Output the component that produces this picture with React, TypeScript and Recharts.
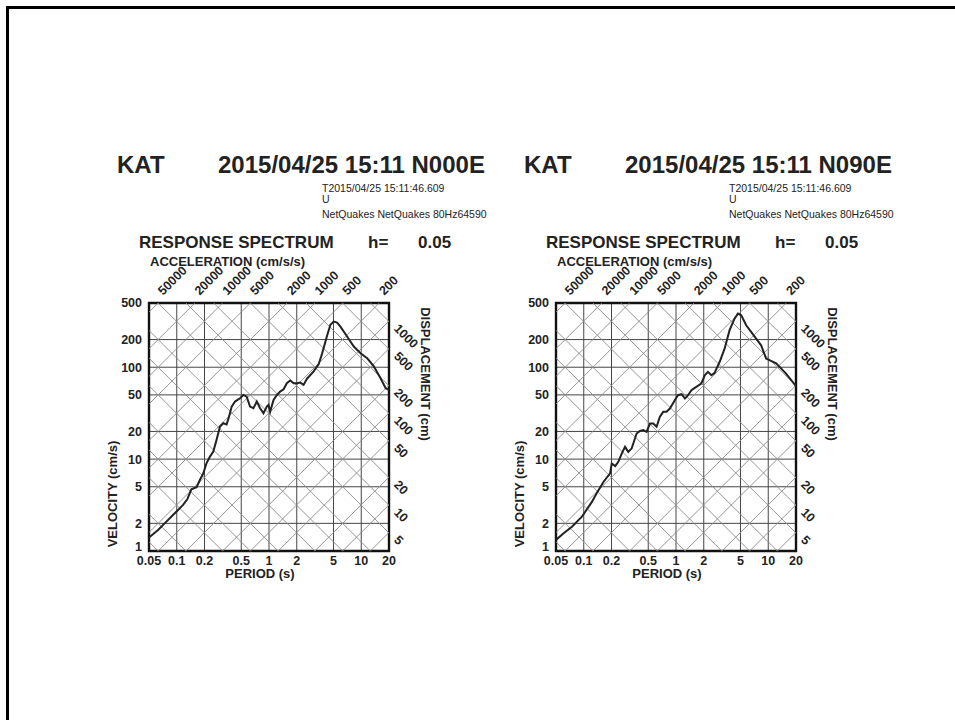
import React from "react";
import {
  LineChart,
  Line,
  XAxis,
  YAxis,
  CartesianGrid,
  ReferenceLine,
  ReferenceDot,
  ReferenceArea,
} from "recharts";

const FONT = "'Liberation Sans', Arial, Helvetica, sans-serif";
const INK = "#222";

// axes
const periodTicks = [0.05, 0.1, 0.2, 0.5, 1, 2, 5, 10, 20];
const velocityTicks = [1, 2, 5, 10, 20, 50, 100, 200, 500];

// tripartite diagonals (cm/s/s and cm)
const accelerationLines = [0.5, 1, 2, 5, 10, 20, 50, 100, 200, 500, 1000, 2000, 5000, 10000, 20000, 50000];
const displacementLines = [0.01, 0.02, 0.05, 0.1, 0.2, 0.5, 1, 2, 5, 10, 20, 50, 100, 200, 500, 1000];
const accelerationLabels = [50000, 20000, 10000, 5000, 2000, 1000, 500, 200];
const displacementLabels = [1000, 500, 200, 100, 50, 20, 10, 5];

// N000E component
const periodsN000E = [
  0.05, 0.0627, 0.0772, 0.0951, 0.117, 0.13, 0.144, 0.164, 0.178, 0.194, 0.21, 0.229, 0.249, 0.27,
  0.294, 0.32, 0.347, 0.362, 0.394, 0.428, 0.485, 0.527, 0.573, 0.623, 0.678, 0.737, 0.801, 0.871,
  0.947, 0.987, 1.03, 1.12, 1.22, 1.32, 1.44, 1.56, 1.7, 1.85, 2.01, 2.18, 2.37, 2.58, 3.05, 3.46,
  3.76, 4.26, 4.63, 5.03, 5.47, 5.95, 7.03, 8.31, 9.82, 11.6, 13.7, 16.2, 18.4, 20,
];
const velocityN000E = [
  1.4, 1.69, 2.09, 2.57, 3.17, 3.65, 4.69, 4.94, 5.93, 7.01, 9.01, 10.65, 12.1, 16.2,
  22.6, 24.6, 23.9, 27.2, 37.3, 42.3, 45.9, 49.9, 47.9, 37.3, 35.8, 42.3, 35.8, 31.6,
  37.3, 38.9, 32.9, 44.1, 49.9, 54.3, 57.6, 67, 71.6, 67, 67, 68.1, 64.2, 75, 90, 108,
  140, 220, 290, 314, 306, 277, 216, 168, 142, 125, 102, 75.9, 59, 56.6,
];

// N090E component
const periodsN090E = [
  0.05, 0.0605, 0.0744, 0.0954, 0.122, 0.139, 0.164, 0.193, 0.201, 0.219, 0.237, 0.258, 0.28,
  0.304, 0.331, 0.374, 0.407, 0.442, 0.48, 0.522, 0.567, 0.616, 0.669, 0.727, 0.789, 0.858,
  0.971, 1.05, 1.15, 1.25, 1.35, 1.47, 1.66, 1.88, 2.05, 2.22, 2.42, 2.62, 2.97, 3.37, 3.81,
  4.31, 4.69, 5.1, 5.77, 7.39, 8.38, 9.48, 12.2, 15.6, 19.6, 20,
];
const velocityN090E = [
  1.32, 1.56, 1.84, 2.36, 3.4, 4.3, 5.67, 6.99, 8.97, 8.39, 9.35, 11.5, 13.6,
  12.0, 13.1, 19.0, 20.3, 20.7, 19.8, 24.4, 24.4, 22.5, 28.9, 32.7, 32.7, 35.5,
  43.8, 49.6, 50.9, 45.6, 49.6, 56.2, 61.1, 66.4, 81.8, 89, 81.8, 86.8, 114, 160, 253,
  338, 383, 367, 286, 205, 173, 124, 110, 85.3, 63.7, 62,
];

const T_MIN = 0.05;
const T_MAX = 20;
const V_MIN = 1;
const V_MAX = 500;
const TWO_PI = 2 * Math.PI;

// constant acceleration: V = A T / 2pi, clipped to the plot box
function accelSegment(a: number) {
  const k = a / TWO_PI;
  const t1 = Math.max(T_MIN, V_MIN / k);
  const t2 = Math.min(T_MAX, V_MAX / k);
  if (t1 >= t2) return null;
  return [
    { x: t1, y: k * t1 },
    { x: t2, y: k * t2 },
  ];
}

// constant displacement: V = 2pi D / T
function dispSegment(d: number) {
  const c = d * TWO_PI;
  const t1 = Math.max(T_MIN, c / V_MAX);
  const t2 = Math.min(T_MAX, c / V_MIN);
  if (t1 >= t2) return null;
  return [
    { x: t1, y: c / t1 },
    { x: t2, y: c / t2 },
  ];
}

const tickStyle = { fontSize: 12.5, fontWeight: 700, fill: INK, fontFamily: FONT };

// the lowest velocity label sits a little above the corner, clear of "0.05"
function VelocityTick(props: any) {
  const { x, y, payload } = props;
  const shift = payload.value === V_MIN ? -4 : 0;
  return (
    <text x={x} y={y + shift} dy="0.355em" textAnchor="end" {...tickStyle}>
      {payload.value}
    </text>
  );
}

function Spectrum({ periods, velocities }: { periods: number[]; velocities: number[] }) {
  const data = periods.map((p, i) => ({ period: p, velocity: velocities[i] }));
  return (
    <LineChart
      width={360}
      height={338}
      data={data}
      margin={{ top: 60, right: 60, left: 15, bottom: 5 }}
      style={{ overflow: "visible" }}
    >
      <CartesianGrid stroke="#444" strokeWidth={1} horizontalValues={velocityTicks} verticalValues={periodTicks} />
      <XAxis
        dataKey="period"
        type="number"
        scale="log"
        domain={[T_MIN, T_MAX]}
        allowDataOverflow
        ticks={periodTicks}
        interval={0}
        height={25}
        tickSize={0}
        tickMargin={5}
        axisLine={false}
        tickLine={false}
        tick={tickStyle}
      />
      <YAxis
        type="number"
        scale="log"
        domain={[V_MIN, V_MAX]}
        allowDataOverflow
        ticks={velocityTicks}
        interval={0}
        width={45}
        tickSize={0}
        tickMargin={7}
        axisLine={false}
        tickLine={false}
        tick={<VelocityTick />}
      />
      {accelerationLines.map((a) => {
        const seg = accelSegment(a);
        return seg ? (
          <ReferenceLine key={`a${a}`} segment={seg} stroke="#8a8a8a" strokeWidth={0.9} ifOverflow="visible" />
        ) : null;
      })}
      {displacementLines.map((d) => {
        const seg = dispSegment(d);
        return seg ? (
          <ReferenceLine key={`d${d}`} segment={seg} stroke="#8a8a8a" strokeWidth={0.9} ifOverflow="visible" />
        ) : null;
      })}
      {accelerationLabels.map((a) => (
        <ReferenceDot
          key={`al${a}`}
          x={(TWO_PI * V_MAX) / a}
          y={V_MAX}
          r={0}
          ifOverflow="visible"
          shape={(p: any) => {
            const x = p.cx + 2;
            const y = p.cy - 10;
            return (
              <text
                x={x}
                y={y}
                transform={`rotate(-45 ${x} ${y})`}
                dominantBaseline="central"
                fontSize={12.5}
                fontWeight={700}
                fill={INK}
                fontFamily={FONT}
              >
                {a}
              </text>
            );
          }}
        />
      ))}
      {displacementLabels.map((d) => (
        <ReferenceDot
          key={`dl${d}`}
          x={T_MAX}
          y={(TWO_PI * d) / T_MAX}
          r={0}
          ifOverflow="visible"
          shape={(p: any) => {
            const x = p.cx + 7;
            const y = p.cy + 5;
            return (
              <text
                x={x}
                y={y}
                transform={`rotate(45 ${x} ${y})`}
                dominantBaseline="central"
                fontSize={12.5}
                fontWeight={700}
                fill={INK}
                fontFamily={FONT}
              >
                {d}
              </text>
            );
          }}
        />
      ))}
      <ReferenceArea
        x1={T_MIN}
        x2={T_MAX}
        y1={V_MIN}
        y2={V_MAX}
        fill="none"
        stroke="#111"
        strokeWidth={2.4}
        ifOverflow="visible"
      />
      <Line
        dataKey="velocity"
        type="linear"
        stroke="#222"
        strokeWidth={2}
        dot={false}
        isAnimationActive={false}
      />
    </LineChart>
  );
}

function PanelText({ dx, component }: { dx: number; component: string }) {
  return (
    <g transform={`translate(${dx},0)`} fill={INK} fontFamily={FONT}>
      <text x={117} y={173} fontSize={24} fontWeight={700}>KAT</text>
      <text x={218} y={173} fontSize={24} fontWeight={700}>{`2015/04/25 15:11 ${component}`}</text>
      <text x={322} y={192} fontSize={10.5}>T2015/04/25 15:11:46.609</text>
      <text x={322} y={202.5} fontSize={10.5}>U</text>
      <text x={322} y={217.5} fontSize={10.5}>NetQuakes NetQuakes 80Hz64590</text>
      <text x={139} y={248} fontSize={17} fontWeight={700}>RESPONSE SPECTRUM</text>
      <text x={368} y={248} fontSize={17} fontWeight={700}>h=</text>
      <text x={418} y={248} fontSize={17} fontWeight={700}>0.05</text>
      <text x={150} y={266} fontSize={13} fontWeight={700}>ACCELERATION (cm/s/s)</text>
      <text x={260} y={578} fontSize={13} fontWeight={700} textAnchor="middle">PERIOD (s)</text>
      <text x={117} y={494} fontSize={13} fontWeight={700} textAnchor="middle" transform="rotate(-90 117 494)">
        VELOCITY (cm/s)
      </text>
      <text x={421} y={374} fontSize={13} fontWeight={700} textAnchor="middle" transform="rotate(90 421 374)">
        DISPLACEMENT (cm)
      </text>
    </g>
  );
}

export default function App() {
  return (
    <div style={{ position: "absolute", left: 0, top: 0, width: 955, height: 720, background: "#fff", overflow: "hidden" }}>
      <svg width={955} height={720} style={{ position: "absolute", left: 0, top: 0 }}>
        <path d="M7.5 720 V7.5 H955" stroke="#000" strokeWidth={3} fill="none" />
        <PanelText dx={0} component="N000E" />
        <PanelText dx={407} component="N090E" />
      </svg>
      <div style={{ position: "absolute", left: 89, top: 243 }}>
        <Spectrum periods={periodsN000E} velocities={velocityN000E} />
      </div>
      <div style={{ position: "absolute", left: 496, top: 243 }}>
        <Spectrum periods={periodsN090E} velocities={velocityN090E} />
      </div>
    </div>
  );
}
